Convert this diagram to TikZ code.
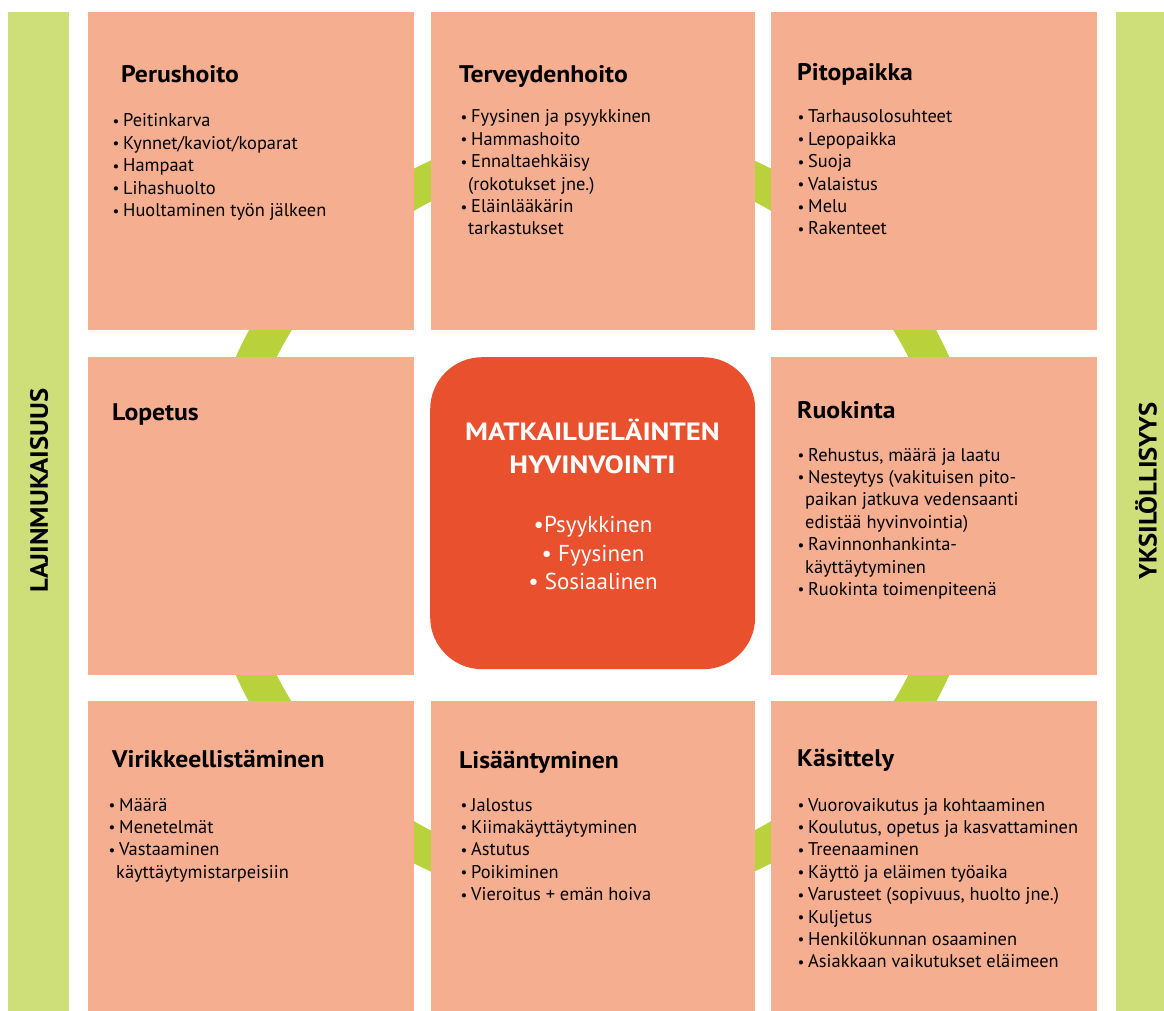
\documentclass[tikz,border=0pt]{standalone}
\usepackage{fontspec}
\setmainfont{PT Sans}
\newfontfamily\ptw[FakeStretch=1.07]{PT Sans}
\newfontfamily\ptww[FakeStretch=1.15]{PT Sans}
\definecolor{boxc}{HTML}{F5AE90}
\definecolor{centc}{HTML}{E8502E}
\definecolor{ringc}{HTML}{B9D13B}
\definecolor{barc}{HTML}{CEDF79}
\newcommand\bi[1]{\hbox{\hbox to 10.5pt{\raisebox{0.5pt}{\fontsize{15}{15}\selectfont •}\hss}#1}}
\newcommand\ci[1]{\hbox{\hspace{7.5pt}#1}}
\begin{document}
\begin{tikzpicture}[x=1pt,y=-1pt,
  box/.style={fill=boxc, draw=none, anchor=north west, inner sep=0, minimum width=#1},
  box/.default=326,
  bar/.style={fill=barc, draw=none},
  ttl/.style={anchor=base west, inner sep=0, font=\ptw\fontsize{24}{28}\selectfont\bfseries},
  lst/.style={anchor=base west, inner sep=0, font=\fontsize{18.4}{22.4}\selectfont},
  side/.style={rotate=90, inner sep=0, font=\ptw\fontsize{25}{30}\selectfont\bfseries},
  ctext/.style={anchor=base, inner sep=0, text=white}]
\useasboundingbox (0,0) rectangle (1164,1011);
% side bars
\fill[bar] (8,12) rectangle (69,1011);
\fill[bar] (1116,12) rectangle (1164,1011);
\node[side] (lajin) at (39,490.5) {LAJINMUKAISUUS};
\node[side] (yksil) at (1146,491) {YKSILÖLLISYYS};
% ring
\draw[ringc, line width=37pt] (592.5,516) circle[radius=372];
% boxes
\node[box, minimum height=318] (b11) at (88,12) {};
\node[box=324, minimum height=318] (b12) at (431,12) {};
\node[box, minimum height=318] (b13) at (771,12) {};
\node[box, minimum height=318] (b21) at (88,357) {};
\node[box, minimum height=318] (b23) at (771,357) {};
\node[box, minimum height=310] (b31) at (88,701) {};
\node[box=324, minimum height=310] (b32) at (431,701) {};
\node[box, minimum height=310] (b33) at (771,701) {};
\node[fill=centc, rounded corners=52pt, anchor=north west, inner sep=0,
      minimum width=325, minimum height=312] (cent) at (430,357) {};
% titles
\node[ttl] (t11) at (121,83) {Perushoito};
\node[ttl] (t12) at (459,83) {Terveydenhoito};
\node[ttl] (t13) at (797,81) {Pitopaikka};
\node[ttl] (t21) at (112,420) {Lopetus};
\node[ttl] (t23) at (797,418) {Ruokinta};
\node[ttl] (t31) at (112,767) {Virikkeellistäminen};
\node[ttl] (t32) at (459,768) {Lisääntyminen};
\node[ttl] (t33) at (797,766) {Käsittely};
% lists
\node[lst] (l11) at (112.5,127) {\vtop{\bi{Peitinkarva}\bi{Kynnet/kaviot/koparat}\bi{Hampaat}\bi{Lihashuolto}\bi{Huoltaminen työn jälkeen}}};
\node[lst] (l12) at (460.5,123) {\vtop{\bi{Fyysinen ja psyykkinen}\bi{Hammashoito}\bi{Ennaltaehkäisy}\ci{(rokotukset jne.)}\bi{Eläinlääkärin}\ci{tarkastukset}}};
\node[lst] (l13) at (797.5,123) {\vtop{\bi{Tarhausolosuhteet}\bi{Lepopaikka}\bi{Suoja}\bi{Valaistus}\bi{Melu}\bi{Rakenteet}}};
\node[lst] (l23) at (797.5,461) {\vtop{\bi{Rehustus, määrä ja laatu}\bi{Nesteytys (vakituisen pito-}\ci{paikan jatkuva vedensaanti}\ci{edistää hyvinvointia)}\bi{Ravinnonhankinta-}\ci{käyttäytyminen}\bi{Ruokinta toimenpiteenä}}};
\node[lst] (l31) at (108.5,811) {\vtop{\bi{Määrä}\bi{Menetelmät}\bi{Vastaaminen}\ci{käyttäytymistarpeisiin}}};
\node[lst] (l32) at (460.5,811) {\vtop{\bi{Jalostus}\bi{Kiimakäyttäytyminen}\bi{Astutus}\bi{Poikiminen}\bi{Vieroitus + emän hoiva}}};
\node[lst] (l33) at (797.5,811) {\vtop{\bi{Vuorovaikutus ja kohtaaminen}\bi{Koulutus, opetus ja kasvattaminen}\bi{Treenaaminen}\bi{Käyttö ja eläimen työaika}\bi{Varusteet (sopivuus, huolto jne.)}\bi{Kuljetus}\bi{Henkilökunnan osaaminen}\bi{Asiakkaan vaikutukset eläimeen}}};
% center text
\node[ctext, font=\ptww\fontsize{25}{30}\selectfont\bfseries] (ct1) at (592.5,440) {MATKAILUELÄINTEN};
\node[ctext, font=\ptww\fontsize{25}{30}\selectfont\bfseries] (ct2) at (592.5,473) {HYVINVOINTI};
\node[ctext, font=\fontsize{23}{27}\selectfont] (cb1) at (593,532) {•Psyykkinen};
\node[ctext, font=\fontsize{23}{27}\selectfont] (cb2) at (593,561) {• Fyysinen};
\node[ctext, font=\fontsize{23}{27}\selectfont] (cb3) at (593,589) {• Sosiaalinen};
\end{tikzpicture}
\end{document}
